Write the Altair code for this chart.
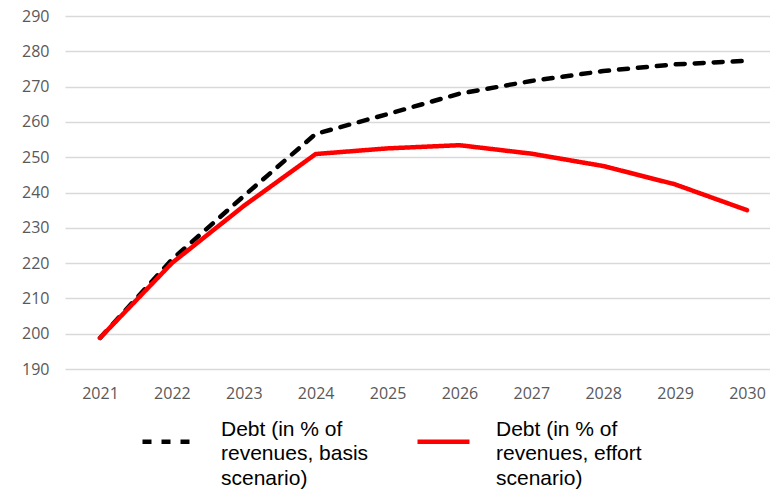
import altair as alt
import pandas as pd

years = [2021, 2022, 2023, 2024, 2025, 2026, 2027, 2028, 2029, 2030]
basis = [198.8, 221.0, 239.0, 256.6, 262.2, 268.0, 271.6, 274.4, 276.3, 277.3]
effort = [198.8, 220.0, 236.2, 250.9, 252.5, 253.4, 251.0, 247.5, 242.3, 235.0]
series_names = [
    "Debt (in % of\nrevenues, basis\nscenario)",
    "Debt (in % of\nrevenues, effort\nscenario)",
]
colors = ["#000000", "#FF0000"]
dashes = [[9, 10], [1, 0]]
y_ticks = [190, 200, 210, 220, 230, 240, 250, 260, 270, 280, 290]

rows = []
for y, b, e in zip(years, basis, effort):
    rows.append({"year": y, "value": b, "series": series_names[0]})
    rows.append({"year": y, "value": e, "series": series_names[1]})
df = pd.DataFrame(rows)

axis_font = "Open Sans"
axis_color = "#595959"

chart = (
    alt.Chart(df)
    .mark_line(strokeWidth=4.5, strokeCap="round", strokeJoin="round")
    .encode(
        x=alt.X(
            "year:Q",
            scale=alt.Scale(domain=[2020.513, 2030.32], nice=False, zero=False),
            axis=alt.Axis(
                values=years,
                format="d",
                title=None,
                grid=False,
                domain=False,
                ticks=False,
                labelFont=axis_font,
                labelFontSize=16,
                labelColor=axis_color,
                labelPadding=16,
            ),
        ),
        y=alt.Y(
            "value:Q",
            scale=alt.Scale(domain=[190, 290], nice=False, zero=False),
            axis=alt.Axis(
                values=y_ticks,
                title=None,
                domain=False,
                ticks=False,
                gridColor="#D9D9D9",
                gridWidth=1.3,
                labelFont=axis_font,
                labelFontSize=16,
                labelColor=axis_color,
                labelPadding=16,
            ),
        ),
        color=alt.Color(
            "series:N",
            scale=alt.Scale(domain=series_names, range=colors),
            legend=alt.Legend(
                title=None,
                orient="none",
                legendX=75,
                legendY=397,
                direction="horizontal",
                symbolType="stroke",
                symbolSize=2704,
                symbolStrokeWidth=4.5,
                labelExpr="split(datum.label, '\\n')",
                labelFont="Liberation Sans",
                labelFontSize=21,
                labelColor="#000000",
                labelBaseline="line-bottom",
                labelLimit=0,
                labelOffset=24,
                columnPadding=39,
            ),
        ),
        strokeDash=alt.StrokeDash(
            "series:N",
            scale=alt.Scale(domain=series_names, range=dashes),
            legend=None,
        ),
    )
    .properties(
        width=705,
        height=353,
        padding={"left": 13, "top": 0, "right": 0, "bottom": 0},
    )
    .configure(style={"guide-label": {"lineHeight": 24.5}})
    .configure_view(stroke=None)
)

chart.save("out.html", embed_options={"renderer": "svg", "actions": False})
